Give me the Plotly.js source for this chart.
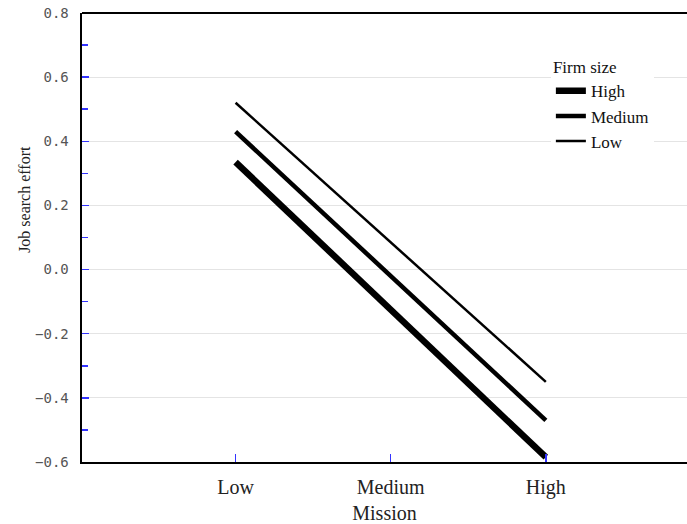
<!DOCTYPE html>
<html>
<head>
<meta charset="utf-8">
<script src="https://cdn.plot.ly/plotly-3.0.1.min.js"></script>
<style>html,body{margin:0;padding:0;background:#fff;}#chart{width:687px;height:524px;}</style>
</head>
<body>
<div id="chart"></div>
<script>
const missionLevels = ['Low', 'Medium', 'High'];
const lineX = ['Low', 'High'];
const firmSizes = ['High', 'Medium', 'Low'];
const highFirm = [0.335, -0.585];
const mediumFirm = [0.43, -0.47];
const lowFirm = [0.52, -0.35];
const yTicks = [-0.6, -0.4, -0.2, 0.0, 0.2, 0.4, 0.6, 0.8];
const yTickLabels = ['\u22120.6', '\u22120.4', '\u22120.2', '0.0', '0.2', '0.4', '0.6', '0.8'];

const seriesValues = [highFirm, mediumFirm, lowFirm];
const widths = [6.5, 4.5, 2.5];
const serif = 'Liberation Serif, serif';

const traces = firmSizes.map((name, i) => ({
  type: 'scatter', mode: 'lines', name: name,
  x: lineX, y: seriesValues[i],
  line: {color: '#000', width: widths[i]},
  hoverinfo: 'skip'
}));

const layout = {
  width: 687, height: 524,
  margin: {l: 82, r: 0, t: 13, b: 62},
  paper_bgcolor: '#fff', plot_bgcolor: '#fff',
  showlegend: true,
  legend: {
    x: 0.775, y: 0.915, xanchor: 'left', yanchor: 'top',
    bgcolor: '#fff', borderwidth: 0,
    title: {text: 'Firm size', font: {family: serif, size: 17, color: '#111'}},
    font: {family: serif, size: 17, color: '#111'},
    itemwidth: 30, tracegroupgap: 0
  },
  xaxis: {
    type: 'category', categoryorder: 'array', categoryarray: missionLevels,
    range: [-0.99, 2.91],
    showgrid: false, zeroline: false,
    showline: true, linecolor: '#000', linewidth: 2,
    ticks: 'inside', ticklen: 8, tickcolor: '#3333ff', tickwidth: 1.5,
    tickfont: {family: serif, size: 20, color: '#222'},
    ticklabelstandoff: 6,
    title: {text: 'Mission', font: {family: serif, size: 20, color: '#222'}, standoff: 10}
  },
  yaxis: {
    range: [-0.6, 0.8],
    tickmode: 'array', tickvals: yTicks,
    ticktext: yTickLabels.map(t => t + '\u00a0'),
    showgrid: true, gridcolor: '#e4e4e4', gridwidth: 1,
    zeroline: false,
    showline: true, linecolor: '#000', linewidth: 2,
    ticks: 'inside', ticklen: 7, tickcolor: '#3333ff', tickwidth: 1.5,
    minor: {dtick: 0.1, tick0: 0, ticks: 'inside', ticklen: 6, tickcolor: '#3333ff', tickwidth: 1.5, showgrid: false},
    tickfont: {family: 'DejaVu Sans Mono, monospace', size: 14, color: '#555'}
  },
  shapes: [
    {type: 'line', xref: 'paper', yref: 'paper', x0: 0, x1: 1, y0: 1, y1: 1, line: {color: '#000', width: 2}}
  ],
  annotations: [
    {text: 'Job search effort', xref: 'paper', yref: 'paper', x: -0.095, y: 0.585,
     xanchor: 'center', yanchor: 'middle', textangle: -90, showarrow: false,
     font: {family: serif, size: 16, color: '#222'}}
  ]
};

Plotly.newPlot('chart', traces, layout, {staticPlot: true, displayModeBar: false});
</script>
</body>
</html>
